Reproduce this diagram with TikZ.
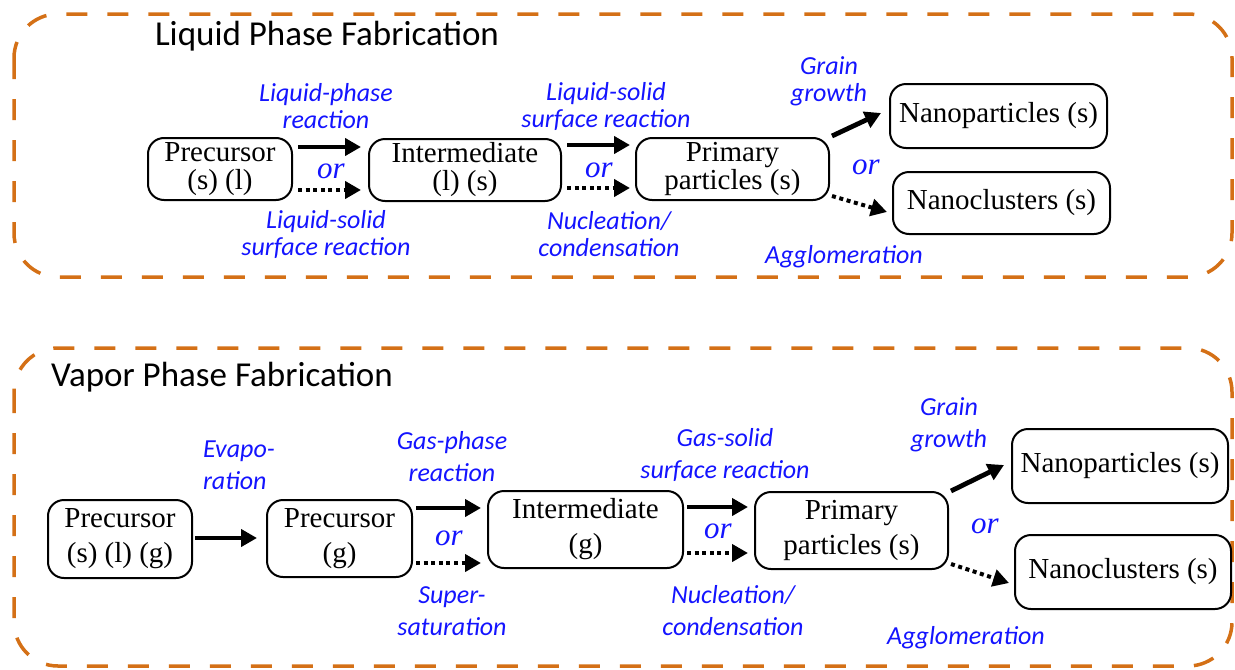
\documentclass[tikz,border=0pt]{standalone}
\usepackage{fontspec}
\setmainfont{Liberation Serif}
\newfontfamily\calibri{Carlito}
\newfontfamily\timesit{Liberation Serif Italic}
\usetikzlibrary{arrows.meta}
\definecolor{frameorange}{RGB}{212,112,22}
\definecolor{labelblue}{RGB}{20,20,255}
\tikzset{
  procbox/.style={draw, line width=1pt, rounded corners=8pt, align=center, inner sep=0pt,
    font=\fontsize{14.5}{14}\selectfont},
  tallbox/.style={procbox, font=\fontsize{14.5}{17.5}\selectfont},
  phaseframe/.style={draw=frameorange, line width=1.75pt, dash pattern=on 10.5pt off 10pt, rounded corners=22pt},
  steplabel/.style={text=labelblue, align=center, font=\calibri\itshape\fontsize{13}{13.5}\selectfont},
  steplabelB/.style={steplabel, font=\calibri\itshape\fontsize{13}{16}\selectfont},
  ortext/.style={text=labelblue, font=\timesit\fontsize{15.5}{14}\selectfont},
  solidarr/.style={line width=2.4pt, -{Triangle[length=8pt,width=8.5pt]}},
  dotarr/.style={line width=2pt, dash pattern=on 2pt off 1.8pt, -{Triangle[length=8pt,width=8.5pt]}},
  phasetitle/.style={font=\calibri\fontsize{17.5}{20}\selectfont}
}
\begin{document}
\begin{tikzpicture}[x=0.5pt, y=-0.5pt]
\useasboundingbox (0,0) rectangle (1235,669);
% liquid phase
\draw[phaseframe] (14,14) rectangle (1232,277);
\node[phasetitle] (ltitle) at (327,36) {Liquid Phase Fabrication};
\node[procbox, minimum width=72pt, minimum height=31pt] (pre) at (220,169) {Precursor\\(s) (l)};
\node[procbox, minimum width=96pt, minimum height=31pt] (intm) at (465,170) {Intermediate\\(l) (s)};
\node[procbox, minimum width=96.5pt, minimum height=31pt] (prim) at (732.5,169) {Primary\\particles (s)};
\node[procbox, minimum width=108.5pt, minimum height=32pt] (nanop) at (998.5,116) {Nanoparticles (s)};
\node[procbox, minimum width=108.5pt, minimum height=31pt] (nanoc) at (1001.5,203) {Nanoclusters (s)};
\draw[solidarr] ([shift={(5,-22)}]pre.east) -- ([shift={(-7,-23)}]intm.west);
\draw[dotarr] ([shift={(5,21)}]pre.east) -- ([shift={(-7,20)}]intm.west);
\draw[solidarr] ([shift={(5,-25)}]intm.east) -- ([shift={(-5,-24)}]prim.west);
\draw[dotarr] ([shift={(5,18)}]intm.east) -- ([shift={(-5,19)}]prim.west);
\draw[solidarr] ([shift={(2,-1)}]prim.north east) -- ([shift={(-8,-3)}]nanop.west);
\draw[dotarr] ([shift={(2,-5)}]prim.south east) -- ([shift={(-5,9)}]nanoc.west);
\node[steplabel] (lphase) at (326,106) {Liquid-phase\\reaction};
\node[steplabel] (lsolidA) at (326,234) {Liquid-solid\\surface reaction};
\node[steplabel] (lsolidB) at (606,106) {Liquid-solid\\surface reaction};
\node[steplabel] (lnucl) at (609,234) {Nucleation/\\condensation};
\node[steplabel] (lgrain) at (829,81) {Grain\\growth};
\node[steplabel] (lagglo) at (844,257) {Agglomeration};
\foreach \x/\y/\n in {331/171/lorA, 599/170/lorB, 866/167/lorC}
  {\node[ortext] (\n) at (\x,\y) {or};}
% vapor phase
\draw[phaseframe] (14,348) rectangle (1232,666);
\node[phasetitle] (vtitle) at (222,377) {Vapor Phase Fabrication};
\node[tallbox, minimum width=72pt, minimum height=39pt] (vpre) at (120,539) {Precursor\\(s) (l) (g)};
\node[tallbox, minimum width=72.5pt, minimum height=38.5pt] (vgas) at (339.5,538.5) {Precursor\\(g)};
\node[tallbox, minimum width=97.5pt, minimum height=38.5pt] (vintm) at (585.5,529.5) {Intermediate\\(g)};
\node[tallbox, minimum width=96.5pt, minimum height=38.5pt] (vprim) at (851.5,530.5) {Primary\\particles (s)};
\node[procbox, minimum width=108pt, minimum height=37pt] (vnanop) at (1120,466) {Nanoparticles (s)};
\node[procbox, minimum width=108pt, minimum height=37pt] (vnanoc) at (1123,572) {Nanoclusters (s)};
\draw[solidarr] ([shift={(2,-1)}]vpre.east) -- ([shift={(-9,-0.5)}]vgas.west);
\draw[solidarr] ([shift={(3,-30.5)}]vgas.east) -- ([shift={(-6,-21.5)}]vintm.west);
\draw[dotarr] ([shift={(3,24.5)}]vgas.east) -- ([shift={(-6,33.5)}]vintm.west);
\draw[solidarr] ([shift={(3,-22.5)}]vintm.east) -- ([shift={(-6,-23.5)}]vprim.west);
\draw[dotarr] ([shift={(3,23.5)}]vintm.east) -- ([shift={(-6,22.5)}]vprim.west);
\draw[solidarr] ([shift={(2,0)}]vprim.north east) -- ([shift={(-7,-1)}]vnanop.west);
\draw[dotarr] ([shift={(2,-6)}]vprim.south east) -- ([shift={(-5,11)}]vnanoc.west);
\node[steplabelB, align=left, anchor=west] (vevap) at (196,465) {Evapo-\\ration};
\node[steplabelB] (vgphase) at (452,457) {Gas-phase\\reaction};
\node[steplabelB] (vsuper) at (452,611) {Super-\\saturation};
\node[steplabelB] (vgsolid) at (725,455) {Gas-solid\\surface reaction};
\node[steplabelB] (vnucl) at (733,611) {Nucleation/\\condensation};
\node[steplabelB] (vgrain) at (949,425) {Grain\\growth};
\node[steplabelB] (vagglo) at (966,638) {Agglomeration};
\foreach \x/\y/\n in {449/538/vorA, 718/531/vorB, 985/526/vorC}
  {\node[ortext] (\n) at (\x,\y) {or};}
\end{tikzpicture}
\end{document}
